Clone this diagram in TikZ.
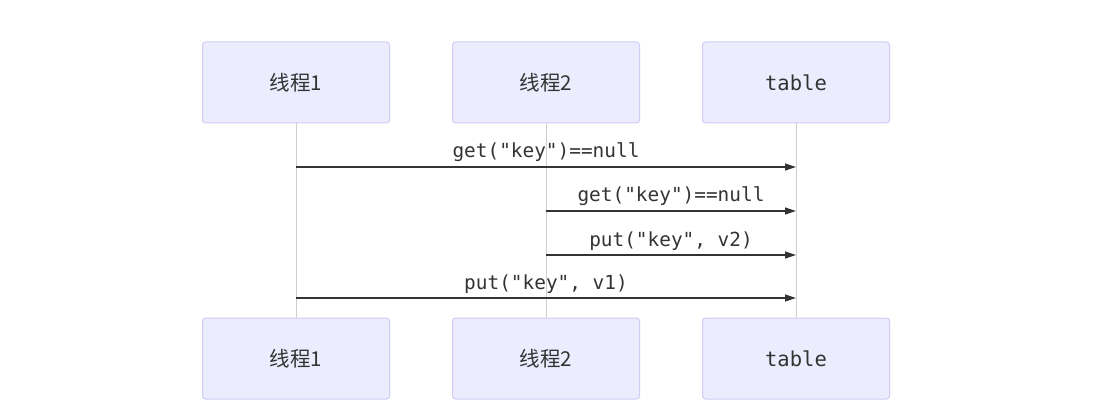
\documentclass[tikz,border=0pt]{standalone}
\usepackage{fontspec}
\setmonofont{DejaVu Sans Mono}
\newfontfamily\cjk{Noto Sans CJK SC}
\usetikzlibrary{arrows.meta}
\definecolor{actorfill}{HTML}{ECECFF}
\definecolor{actorline}{HTML}{D2CBF4}
\definecolor{lifeline}{HTML}{CFCFCF}
\definecolor{ink}{HTML}{333333}
\begin{document}
\begin{tikzpicture}[x=1pt,y=-1pt,
  actor/.style={draw=actorline, fill=actorfill, rounded corners=3pt, line width=1pt,
    minimum width=187pt, minimum height=81pt, inner sep=0pt, text=ink, font=\fontsize{20.5}{24}\selectfont},
  life/.style={draw=lifeline, line width=1pt},
  msg/.style={draw=ink, line width=1.2pt, -{Triangle[length=11pt,width=7pt]}},
  msglabel/.style={above=1pt, text=ink, font=\ttfamily\fontsize{19.4}{23}\selectfont}]
\useasboundingbox (0,0) rectangle (1094,409);

% lifelines first, then actors on top and bottom
\foreach \n/\x/\t in {p1/296/{\cjk 线程1}, p2/546/{\cjk 线程2}, tab/796/{\ttfamily table}} {
  \node[actor] (\n top) at (\x,82.5) {\t};
  \node[actor] (\n bot) at (\x,358.5) {\t};
  \draw[life] (\n top) -- (\n bot);
}

% messages
\draw[msg] (p1top |- 0,167) -- node[msglabel] {get("key")==null} (tabtop |- 0,167);
\draw[msg] (p2top |- 0,211) -- node[msglabel] {get("key")==null} (tabtop |- 0,211);
\draw[msg] (p2top |- 0,255) -- node[msglabel] {put("key", v2)} (tabtop |- 0,255);
\draw[msg] (p1top |- 0,298) -- node[msglabel] {put("key", v1)} (tabtop |- 0,298);

\end{tikzpicture}
\end{document}
